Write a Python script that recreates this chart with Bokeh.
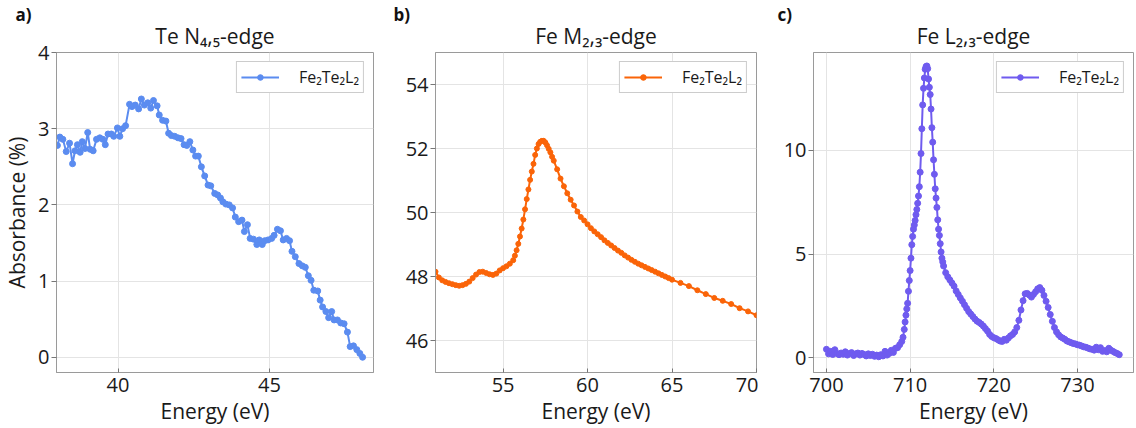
from bokeh.plotting import figure
from bokeh.layouts import row
from bokeh.models import Title, Legend, LegendItem, FixedTicker, Range1d
from bokeh.embed import file_html
from bokeh.resources import INLINE

FONT = "Open Sans"
SAMPLE = "Fe₂Te₂L₂"

# a) Te N4,5-edge
te_energy = [38.00, 38.08, 38.18, 38.29, 38.40, 38.50, 38.58, 38.66, 38.75, 38.82,
             38.91, 39.00, 39.08, 39.18, 39.29, 39.40, 39.50, 39.58, 39.67, 39.78,
             39.86, 39.98, 40.06, 40.15, 40.25, 40.38, 40.46, 40.57, 40.68, 40.77,
             40.87, 40.98, 41.08, 41.17, 41.29, 41.36, 41.47, 41.58, 41.67, 41.76,
             41.87, 41.98, 42.08, 42.18, 42.27, 42.37, 42.47, 42.56, 42.65, 42.75,
             42.86, 42.97, 43.06, 43.19, 43.29, 43.38, 43.46, 43.56, 43.67, 43.78,
             43.87, 43.98, 44.09, 44.17, 44.27, 44.36, 44.47, 44.58, 44.66, 44.76,
             44.84, 44.95, 45.07, 45.15, 45.26, 45.36, 45.45, 45.56, 45.66, 45.74,
             45.85, 45.97, 46.08, 46.18, 46.28, 46.37, 46.46, 46.59, 46.67, 46.75,
             46.86, 46.95, 47.05, 47.13, 47.24, 47.35, 47.46, 47.57, 47.66, 47.77,
             47.88, 47.98, 48.07]
te_absorbance = [2.78, 2.89, 2.86, 2.70, 2.81, 2.54, 2.71, 2.79, 2.69, 2.83,
                 2.74, 2.95, 2.73, 2.71, 2.86, 2.88, 2.86, 2.79, 2.93, 2.93,
                 2.90, 3.01, 2.90, 3.00, 3.04, 3.32, 3.29, 3.31, 3.26, 3.39,
                 3.31, 3.34, 3.27, 3.37, 3.30, 3.18, 3.11, 3.10, 2.94, 2.91,
                 2.90, 2.88, 2.87, 2.79, 2.78, 2.83, 2.72, 2.64, 2.64, 2.50,
                 2.38, 2.26, 2.25, 2.15, 2.13, 2.09, 2.04, 2.01, 2.00, 1.96,
                 1.84, 1.78, 1.80, 1.65, 1.74, 1.56, 1.55, 1.48, 1.54, 1.48,
                 1.53, 1.54, 1.56, 1.60, 1.68, 1.66, 1.54, 1.56, 1.53, 1.39,
                 1.32, 1.23, 1.20, 1.18, 1.07, 1.01, 0.88, 0.87, 0.75, 0.66,
                 0.60, 0.52, 0.60, 0.49, 0.49, 0.45, 0.44, 0.33, 0.14, 0.15,
                 0.10, 0.05, 0.00]

# b) Fe M2,3-edge
fem_energy = [51.0, 51.2, 51.4, 51.6, 51.8, 52.0, 52.2, 52.4, 52.6, 52.8,
              53.0, 53.2, 53.4, 53.6, 53.8, 54.0, 54.2, 54.4, 54.6, 54.8,
              55.0, 55.2, 55.4, 55.6, 55.7, 55.8, 55.9, 56.0, 56.1, 56.2,
              56.3, 56.4, 56.5, 56.6, 56.7, 56.8, 56.9, 57.0, 57.1, 57.2,
              57.3, 57.4, 57.5, 57.6, 57.7, 57.8, 57.9, 58.0, 58.2, 58.4,
              58.6, 58.8, 59.0, 59.2, 59.4, 59.6, 59.8, 60.0, 60.2, 60.4,
              60.6, 60.8, 61.0, 61.2, 61.4, 61.6, 61.8, 62.0, 62.2, 62.4,
              62.6, 62.8, 63.0, 63.2, 63.4, 63.6, 63.8, 64.0, 64.2, 64.4,
              64.6, 64.8, 65.0, 65.5, 66.0, 66.5, 67.0, 67.5, 68.0, 68.5,
              69.0, 69.5, 70.0]
fem_signal = [48.15, 47.97, 47.88, 47.83, 47.79, 47.76, 47.73, 47.71, 47.73, 47.77,
              47.84, 47.95, 48.06, 48.14, 48.15, 48.11, 48.07, 48.05, 48.09, 48.19,
              48.26, 48.32, 48.40, 48.51, 48.65, 48.82, 49.02, 49.25, 49.50, 49.78,
              50.10, 50.42, 50.72, 51.02, 51.28, 51.52, 51.80, 52.00, 52.14, 52.21,
              52.24, 52.24, 52.19, 52.10, 51.99, 51.88, 51.74, 51.62, 51.35, 51.06,
              50.82, 50.60, 50.40, 50.22, 50.03, 49.86, 49.75, 49.63, 49.51, 49.41,
              49.32, 49.23, 49.13, 49.05, 48.97, 48.89, 48.81, 48.74, 48.66, 48.59,
              48.52, 48.46, 48.40, 48.35, 48.30, 48.25, 48.20, 48.15, 48.10, 48.05,
              48.00, 47.95, 47.90, 47.80, 47.70, 47.57, 47.45, 47.33, 47.24, 47.14,
              47.01, 46.91, 46.79]

# c) Fe L2,3-edge
fel_energy = [700.0, 700.25, 700.5, 700.75, 701.0, 701.25, 701.5, 701.75, 702.0, 702.25,
              702.5, 702.75, 703.0, 703.25, 703.5, 703.75, 704.0, 704.25, 704.5, 704.75,
              705.0, 705.25, 705.5, 705.75, 706.0, 706.25, 706.5, 706.75, 707.0, 707.25,
              707.5, 707.75, 708.0, 708.25, 708.5, 708.75, 709.0, 709.15, 709.3, 709.4,
              709.5, 709.6, 709.7, 709.8, 709.9, 710.0, 710.1, 710.2, 710.3, 710.4,
              710.5, 710.6, 710.7, 710.8, 710.9, 711.0, 711.1, 711.2, 711.3, 711.4,
              711.5, 711.6, 711.7, 711.8, 711.9, 712.0, 712.1, 712.2, 712.3, 712.4,
              712.5, 712.6, 712.7, 712.8, 712.9, 713.0, 713.1, 713.2, 713.3, 713.4,
              713.5, 713.6, 713.7, 713.8, 713.9, 714.0, 714.25, 714.5, 714.75, 715.0,
              715.25, 715.5, 715.75, 716.0, 716.25, 716.5, 716.75, 717.0, 717.25, 717.5,
              717.75, 718.0, 718.25, 718.5, 718.75, 719.0, 719.25, 719.5, 719.75, 720.0,
              720.25, 720.5, 720.75, 721.0, 721.25, 721.5, 721.75, 722.0, 722.25, 722.5,
              722.75, 723.0, 723.25, 723.5, 723.75, 724.0, 724.25, 724.5, 724.75, 725.0,
              725.25, 725.5, 725.75, 726.0, 726.25, 726.5, 726.75, 727.0, 727.25, 727.5,
              727.75, 728.0, 728.25, 728.5, 728.75, 729.0, 729.25, 729.5, 729.75, 730.0,
              730.25, 730.5, 730.75, 731.0, 731.25, 731.5, 731.75, 732.0, 732.25, 732.5,
              732.75, 733.0, 733.25, 733.5, 733.75, 734.0, 734.25, 734.5, 734.75, 735.0]
fel_signal = [0.40, 0.18, 0.30, 0.15, 0.38, 0.20, 0.14, 0.22, 0.16, 0.28,
              0.12, 0.20, 0.24, 0.10, 0.18, 0.22, 0.12, 0.20, 0.15, 0.08,
              0.18, 0.10, 0.16, 0.06, 0.12, 0.04, 0.14, 0.08, 0.30, 0.12,
              0.20, 0.35, 0.25, 0.45, 0.48, 0.62, 0.78, 0.98, 1.36, 1.72,
              2.05, 2.35, 2.62, 3.20, 3.72, 4.20, 4.80, 5.45, 5.85, 6.20,
              6.40, 6.62, 6.90, 7.15, 7.45, 7.80, 8.25, 8.95, 9.85, 11.05,
              12.20, 13.00, 13.50, 13.92, 14.05, 14.08, 13.95, 13.45, 13.05, 12.70,
              12.00, 11.10, 10.40, 9.55, 8.85, 8.15, 7.70, 7.25, 6.65, 6.20,
              5.90, 5.50, 5.10, 4.80, 4.62, 4.42, 4.10, 3.90, 3.75, 3.60,
              3.45, 3.22, 3.05, 2.88, 2.72, 2.55, 2.38, 2.22, 2.10, 1.98,
              1.86, 1.76, 1.70, 1.62, 1.52, 1.40, 1.28, 1.12, 1.02, 0.96,
              0.92, 0.86, 0.80, 0.78, 0.88, 0.84, 0.95, 1.05, 1.12, 1.24,
              1.45, 1.80, 2.30, 2.75, 3.08, 3.10, 3.02, 2.92, 3.05, 3.18,
              3.32, 3.38, 3.25, 3.00, 2.72, 2.42, 2.08, 1.75, 1.45, 1.24,
              1.10, 1.00, 0.94, 0.88, 0.80, 0.76, 0.72, 0.68, 0.66, 0.62,
              0.60, 0.56, 0.52, 0.50, 0.46, 0.42, 0.40, 0.36, 0.50, 0.38,
              0.48, 0.30, 0.34, 0.28, 0.45, 0.36, 0.30, 0.24, 0.20, 0.14]

te_xticks = [40, 45]
te_yticks = [0, 1, 2, 3, 4]
fem_xticks = [55, 60, 65, 70]
fem_yticks = [46, 48, 50, 52, 54]
fel_xticks = [700, 710, 720, 730]
fel_yticks = [0, 5, 10]


def panel(x, y, color, title, tag, tag_offset, xr, yr, xticks, yticks,
          width, left, right, marker_size, ylabel=None):
    p = figure(width=width, height=428, x_range=Range1d(*xr), y_range=Range1d(*yr),
               output_backend="svg", toolbar_location=None,
               min_border_left=left, min_border_right=right,
               min_border_top=52, min_border_bottom=56,
               background_fill_color="white", border_fill_color="white")
    # panel letter sits outermost, the edge title just above the frame
    p.title.text = tag
    p.title.align = "left"
    p.title.offset = tag_offset
    p.title.text_font = FONT
    p.title.text_font_size = "17px"
    p.title.text_font_style = "bold"
    p.title.text_color = "#111111"
    p.title.standoff = -19
    p.add_layout(Title(text=title, align="center", text_font=FONT,
                       text_font_size="21px", text_font_style="normal",
                       text_color="#1a1a1a", standoff=6), "above")

    ln = p.line(x, y, line_color=color, line_width=2)
    sc = p.scatter(x, y, size=marker_size, fill_color=color, line_color=color)

    legend = Legend(items=[LegendItem(label=SAMPLE, renderers=[ln, sc])],
                    location="top_right", margin=9, padding=4, spacing=0,
                    glyph_width=38, glyph_height=14, label_standoff=20,
                    label_text_font=FONT, label_text_font_size="16px",
                    label_text_color="#1a1a1a",
                    border_line_color="#9a9a9a", border_line_width=1,
                    background_fill_color="white", background_fill_alpha=1.0)
    p.add_layout(legend)

    p.xaxis.ticker = FixedTicker(ticks=xticks)
    p.yaxis.ticker = FixedTicker(ticks=yticks)
    p.xaxis.axis_label = "Energy (eV)"
    if ylabel:
        p.yaxis.axis_label = ylabel
    for ax in (p.xaxis, p.yaxis):
        ax.axis_label_text_font = FONT
        ax.axis_label_text_font_size = "21px"
        ax.axis_label_text_font_style = "normal"
        ax.axis_label_text_color = "#1a1a1a"
        ax.major_label_text_font = FONT
        ax.major_label_text_font_size = "20px"
        ax.major_label_text_color = "#1a1a1a"
        ax.axis_line_color = "#9a9a9a"
        ax.major_tick_line_color = "#777777"
        ax.minor_tick_line_color = None
    p.xaxis.major_tick_in = 4
    p.xaxis.major_tick_out = 0
    p.yaxis.major_tick_in = 0
    p.yaxis.major_tick_out = 5
    p.xaxis.major_label_standoff = 5
    p.yaxis.major_label_standoff = 2
    p.xaxis.axis_label_standoff = 2
    p.yaxis.axis_label_standoff = 4
    p.grid.grid_line_color = "#e4e4e4"
    p.grid.grid_line_width = 1
    p.outline_line_color = "#9a9a9a"
    p.outline_line_width = 1
    return p


p1 = panel(te_energy, te_absorbance, "#5b8cf0", "Te N₄,₅-edge", "a)", -41,
           (37.97, 48.43), (-0.2, 4.0), te_xticks, te_yticks,
           380, 53, 7, 6, ylabel="Absorbance (%)")
p2 = panel(fem_energy, fem_signal, "#fa6408", "Fe M₂,₃-edge", "b)", -42,
           (51.0, 70.0), (45.0, 55.0), fem_xticks, fem_yticks,
           378, 55, 2, 5)
p3 = panel(fel_energy, fel_signal, "#6f5bef", "Fe L₂,₃-edge", "c)", -36,
           (698.45, 736.7), (-0.72, 14.73), fel_xticks, fel_yticks,
           378, 55, 3, 6)

layout = row(p1, p2, p3, spacing=0)
open("out.html", "w").write(file_html(layout, INLINE))
